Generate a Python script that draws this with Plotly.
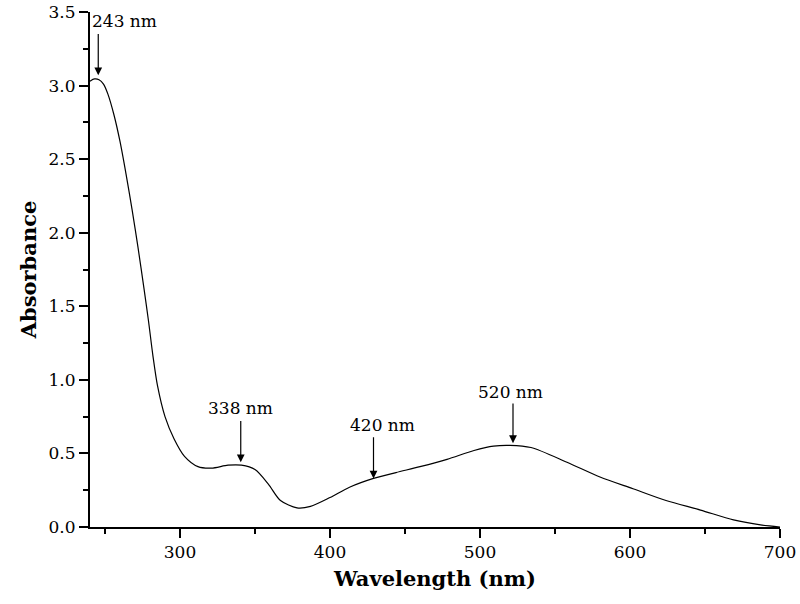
import plotly.graph_objects as go

# absorption spectrum
wavelength = [240, 243, 246, 249, 252, 256, 260, 264, 268, 272, 276, 279, 282,
              285, 290, 296, 303, 312, 321, 332, 341, 350, 359, 367, 378, 387,
              400, 413, 429, 444, 460, 478, 496, 509, 520, 534, 558, 580, 602,
              624, 647, 669, 687, 700]
absorbance = [3.03, 3.045, 3.04, 3.01, 2.94, 2.80, 2.62, 2.40, 2.16, 1.90, 1.62,
              1.40, 1.16, 0.96, 0.75, 0.60, 0.48, 0.41, 0.40, 0.42, 0.42, 0.39,
              0.29, 0.18, 0.13, 0.14, 0.20, 0.27, 0.33, 0.37, 0.41, 0.46, 0.52,
              0.55, 0.555, 0.54, 0.44, 0.34, 0.26, 0.18, 0.115, 0.048, 0.014,
              0.0]

# peak markers: arrow x, arrow tip, arrow tail, label x, label y
peak_labels = ["243 nm", "338 nm", "420 nm", "520 nm"]
peak_x = [245.5, 340.5, 429, 522]
peak_tip = [3.07, 0.44, 0.33, 0.57]
peak_tail = [3.36, 0.73, 0.62, 0.85]
label_x = [263, 340, 435, 520]
label_y = [3.44, 0.81, 0.69, 0.92]

serif = "DejaVu Serif"

fig = go.Figure()
fig.add_trace(go.Scatter(
    x=wavelength, y=absorbance, mode="lines",
    line=dict(color="black", width=1.2, shape="spline", smoothing=0.8),
    showlegend=False,
))

for i in range(len(peak_labels)):
    fig.add_annotation(
        x=peak_x[i], y=peak_tip[i], ax=peak_x[i], ay=peak_tail[i],
        xref="x", yref="y", axref="x", ayref="y",
        text="", showarrow=True, arrowhead=2, arrowsize=1.3,
        arrowwidth=1.2, arrowcolor="black",
    )
    fig.add_annotation(
        x=label_x[i], y=label_y[i], xref="x", yref="y",
        text=peak_labels[i], showarrow=False,
        font=dict(family=serif, size=17, color="black"),
    )

fig.update_xaxes(
    range=[240, 700], tickvals=[300, 400, 500, 600, 700],
    ticks="outside", ticklen=9, tickwidth=2, tickcolor="black",
    minor=dict(dtick=50, tick0=250, ticks="outside", ticklen=5, tickwidth=2,
               tickcolor="black"),
    showline=True, linecolor="black", linewidth=2,
    showgrid=False, zeroline=False, automargin=False,
    tickfont=dict(family=serif, size=17, color="black"),
    title=dict(text="<b>Wavelength (nm)</b>", standoff=10,
               font=dict(family=serif, size=21, color="black")),
)
fig.update_yaxes(
    range=[0, 3.5], dtick=0.5, tickformat=".1f",
    ticks="outside", ticklen=9, tickwidth=2, tickcolor="black",
    minor=dict(dtick=0.25, ticks="outside", ticklen=5, tickwidth=2,
               tickcolor="black"),
    showline=True, linecolor="black", linewidth=2,
    showgrid=False, zeroline=False, automargin=False,
    tickfont=dict(family=serif, size=17, color="black"),
    title=dict(text="<b>Absorbance</b>", standoff=6,
               font=dict(family=serif, size=21, color="black")),
)

fig.update_layout(
    width=800, height=604,
    margin=dict(l=90, r=20, t=12, b=77),
    plot_bgcolor="white", paper_bgcolor="white",
)

# drop the page's default body margin so the figure sits at the corner
fig.write_html("out.html", config={"displayModeBar": False},
               post_script="document.body.style.margin='0';")
